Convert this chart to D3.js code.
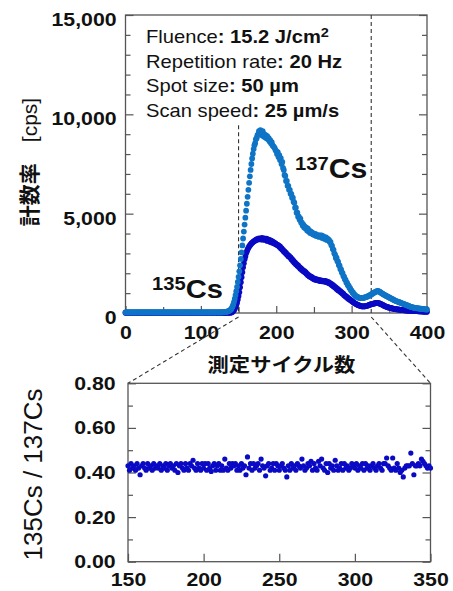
<!DOCTYPE html>
<html>
<head>
<meta charset="utf-8">
<script src="https://cdn.jsdelivr.net/npm/d3@7"></script>
<style>
  body { margin: 0; background: #fff; }
  svg { display: block; }
</style>
</head>
<body>
<div id="chart"></div>
<script>
// ---- data ----
// measurement cycle index (one point per cycle)
const cycles = d3.range(0, 401)

// 137Cs count rate [cps], cycles 0..400
const cs137 = [
  32,28,35,30,27,33,31,29,36,30,28,34,31,27,33,30,35,29,32,28,
  31,34,27,30,36,29,32,28,33,31,30,35,28,32,29,34,30,27,33,31,
  29,33,30,36,28,31,34,27,32,30,35,29,31,28,33,30,36,29,32,30,
  34,28,31,33,27,30,35,29,32,31,28,34,30,33,29,31,36,28,30,32,
  29,35,31,28,33,30,34,27,32,31,30,36,29,33,28,31,34,30,27,32,
  31,29,35,30,33,28,32,36,30,29,34,31,28,33,30,35,32,29,31,34,
  33,30,36,32,35,31,34,37,33,36,40,44,48,55,62,72,85,100,120,150,
  180,250,330,430,560,720,900,1100,1320,1560,
  1820,2100,2400,2720,3050,3400,3750,4100,4450,4800,
  5150,5500,5850,6200,6550,6880,7200,7500,7780,8020,
  8250,8450,8550,8750,8800,8950,8980,9150,9050,9200,
  9050,8950,9150,8900,9000,8850,8950,8800,8900,8750,
  8800,8650,8700,8550,8600,8450,8400,8350,8300,8200,
  8150,8000,8100,7850,7950,7700,7800,7500,7600,7300,
  7200,6950,6900,6650,6650,6400,6400,6200,6200,6000,
  6000,5800,5800,5600,5550,5300,5300,5050,5050,4850,
  4850,4700,4750,4550,4550,4400,4450,4300,4350,4250,
  4300,4150,4250,4100,4150,4030,4100,4000,4050,3950,
  3980,3920,3980,3880,3930,3860,3900,3830,3900,3850,
  3900,3780,3870,3750,3820,3730,3800,3680,3740,3660,
  3680,3570,3580,3420,3380,3220,3180,3000,2940,2770,
  2780,2620,2580,2420,2380,2220,2190,2040,2010,1860,
  1830,1700,1670,1540,1510,1400,1380,1270,1250,1140,
  1120,1030,1020,940,920,860,850,810,810,775,
  770,760,750,750,755,760,765,780,790,800,
  815,830,850,870,890,910,930,960,990,1010,
  1030,1050,1070,1090,1100,1110,1090,1070,1050,1020,
  990,970,950,920,900,880,860,840,820,800,
  780,760,740,720,700,680,660,640,620,600,
  590,575,560,545,530,515,500,485,470,455,
  440,425,410,395,380,365,350,335,320,305,
  295,285,275,265,255,250,245,240,235,230,
  225,220,215,210,205,200,195,190,185,180,
  175
]

// 135Cs count rate [cps], cycles 0..400
const cs135 = [
  12,15,13,17,14,12,16,13,15,14,13,16,12,15,17,13,14,12,16,15,
  14,12,15,13,17,14,16,12,13,15,16,13,14,12,15,17,13,14,16,12,
  15,14,13,16,12,15,17,14,13,15,12,16,14,13,15,12,17,14,16,13,
  14,15,12,16,13,14,17,12,15,13,16,14,13,15,12,16,14,17,13,15,
  12,14,16,13,15,12,14,17,13,16,15,13,12,14,16,15,13,17,12,14,
  13,16,15,12,14,13,17,15,12,16,14,13,16,12,15,14,13,17,15,12,
  16,14,13,15,17,14,16,15,18,17,14,15,16,15,17,16,18,17,19,18,
  22,35,60,100,150,220,300,400,520,680,
  850,1050,1300,1550,1800,2050,2300,2500,2700,2850,
  3000,3100,3200,3280,3350,3400,3450,3500,3530,3570,
  3600,3620,3650,3680,3700,3720,3700,3750,3720,3740,
  3700,3780,3700,3710,3760,3680,3700,3740,3630,3700,
  3620,3680,3580,3640,3550,3610,3520,3550,3480,3500,
  3450,3440,3410,3400,3330,3350,3260,3270,3180,3180,
  3100,3100,3020,3020,2940,2940,2860,2870,2800,2800,
  2710,2710,2620,2620,2530,2540,2460,2460,2380,2390,
  2310,2310,2230,2240,2160,2170,2100,2120,2050,2060,
  1980,1970,1900,1910,1840,1850,1800,1820,1750,1760,
  1700,1730,1670,1700,1650,1680,1630,1660,1610,1640,
  1600,1630,1590,1620,1580,1610,1560,1590,1540,1560,
  1500,1520,1460,1470,1400,1410,1340,1350,1280,1290,
  1210,1220,1150,1160,1090,1100,1030,1040,970,980,
  890,890,830,830,770,770,710,710,655,650,
  610,580,550,520,500,475,450,430,410,395,
  380,365,350,340,335,330,330,335,340,350,
  360,370,385,400,415,430,440,450,460,470,
  480,490,500,505,510,500,490,480,465,450,
  430,410,390,370,350,335,320,305,290,280,
  270,260,250,240,230,220,210,200,195,190,
  185,180,175,170,165,160,155,150,145,140,
  135,130,128,125,122,120,118,115,112,110,
  108,105,102,100,98,95,92,90,88,86,
  84,82,80,78,76,74,72,70,68,66,
  64
]

// isotope ratio 135Cs/137Cs, cycles 150..350
const ratioCycles = d3.range(150, 351)
const ratio = [
  0.43,0.41,0.44,0.42,0.43,0.41,0.44,0.42,0.39,0.43,
  0.44,0.42,0.41,0.44,0.42,0.43,0.41,0.44,0.42,0.43,
  0.42,0.44,0.41,0.43,0.42,0.44,0.41,0.43,0.44,0.42,
  0.43,0.41,0.44,0.40,0.43,0.44,0.42,0.41,0.44,0.42,
  0.41,0.44,0.43,0.455,0.42,0.41,0.44,0.42,0.41,0.44,
  0.42,0.44,0.41,0.44,0.42,0.405,0.43,0.44,0.41,0.43,
  0.44,0.41,0.43,0.41,0.46,0.42,0.41,0.44,0.42,0.44,
  0.43,0.44,0.41,0.43,0.41,0.44,0.42,0.43,0.39,0.47,
  0.42,0.44,0.41,0.44,0.42,0.43,0.44,0.41,0.46,0.43,
  0.42,0.385,0.43,0.44,0.41,0.42,0.44,0.41,0.44,0.43,
  0.41,0.43,0.44,0.42,0.41,0.38,0.43,0.41,0.44,0.42,
  0.43,0.41,0.44,0.43,0.42,0.46,0.43,0.41,0.42,0.44,
  0.43,0.45,0.41,0.44,0.42,0.41,0.45,0.43,0.46,0.42,
  0.41,0.44,0.40,0.44,0.42,0.43,0.41,0.455,0.43,0.41,
  0.42,0.44,0.41,0.44,0.42,0.43,0.41,0.42,0.44,0.43,
  0.42,0.44,0.41,0.43,0.42,0.44,0.41,0.44,0.42,0.43,
  0.41,0.43,0.44,0.42,0.41,0.43,0.44,0.42,0.41,0.44,
  0.44,0.465,0.43,0.42,0.41,0.465,0.42,0.41,0.44,0.42,
  0.40,0.41,0.38,0.42,0.43,0.43,0.43,0.487,0.44,0.39,
  0.43,0.43,0.44,0.43,0.46,0.45,0.44,0.43,0.42,0.43,
  0.42
]

// ticks and labels
const countTicks = [0, 5000, 10000, 15000]
const countMinor = [1000, 2000, 3000, 4000, 6000, 7000, 8000, 9000, 11000, 12000, 13000, 14000]
const cycleTicks = [0, 100, 200, 300, 400]
const cycleMinor = [50, 150, 250, 350]
const ratioTicks = [0, 0.2, 0.4, 0.6, 0.8]
const ratioMinor = [0.1, 0.3, 0.5, 0.7]
const zoomTicks = [150, 200, 250, 300, 350]
// cycles marked by the dashed lines (zoomed window)
const zoomWindow = [150, 326]

const conditions = [
  ['Fluence', ': 15.2 J/cm', '2'],
  ['Repetition rate', ': 20 Hz', ''],
  ['Spot size', ': 50 µm', ''],
  ['Scan speed', ': 25 µm/s', '']
]

// ---- drawing ----
const FONT = "'Liberation Sans', Arial, 'Noto Sans CJK JP', sans-serif"
const LIGHT = '#0f74c6'
const DARK = '#0a0ac4'
const LINE = '#555'
const SX = 1.12   // the original lettering is slightly wide

const svg = d3.select('#chart').append('svg')
    .attr('width', 453)
    .attr('height', 591)
    .style('font-family', FONT)

// tidy up an axis group: no domain, grey ticks, bold wide labels
let styleAxis = (g, size) => {
    g.select('.domain').remove()
    g.selectAll('.tick line').attr('stroke', LINE).attr('stroke-width', 1.2)
    g.attr('font-family', FONT).attr('font-size', size).attr('font-weight', 'bold')
    g.selectAll('.tick text').attr('fill', '#111').attr('transform', `scale(${SX},1)`)
}

// ===== top chart: count rate vs cycle =====
const x = d3.scaleLinear().domain([0, 400]).range([125.5, 427])
const y = d3.scaleLinear().domain([0, 15000]).range([313, 15])

svg.append('rect')
    .attr('x', x(0)).attr('y', y(15000))
    .attr('width', x(400) - x(0)).attr('height', y(0) - y(15000))
    .attr('fill', 'none').attr('stroke', LINE).attr('stroke-width', 1.3)

svg.append('g').attr('transform', `translate(${x(0)},0)`)
    .call(d3.axisLeft(y).tickValues(countMinor).tickSize(-5).tickFormat(''))
    .call(g => styleAxis(g, 19))
svg.append('g').attr('transform', `translate(${x(0)},0)`)
    .call(d3.axisLeft(y).tickValues(countTicks).tickSize(-8).tickPadding(8).tickFormat(d3.format(',')))
    .call(g => styleAxis(g, 19))
    .call(g => g.selectAll('.tick text').attr('dy', '0.55em'))
svg.append('g').attr('transform', `translate(${x(400)},0)`)
    .call(d3.axisRight(y).tickValues(countMinor).tickSize(-5).tickFormat(''))
    .call(g => styleAxis(g, 19))
svg.append('g').attr('transform', `translate(${x(400)},0)`)
    .call(d3.axisRight(y).tickValues(countTicks).tickSize(-8).tickFormat(''))
    .call(g => styleAxis(g, 19))
svg.append('g').attr('transform', `translate(0,${y(0)})`)
    .call(d3.axisBottom(x).tickValues(cycleMinor).tickSize(-6).tickFormat(''))
    .call(g => styleAxis(g, 19))
svg.append('g').attr('transform', `translate(0,${y(0)})`)
    .call(d3.axisBottom(x).tickValues(cycleTicks).tickSize(-7).tickPadding(13))
    .call(g => styleAxis(g, 19))

// dashed lines marking the zoomed window
let dashed = sel => sel.attr('stroke', '#333').attr('stroke-width', 1.1).attr('stroke-dasharray', '4,3')

svg.append('line').call(dashed)
    .attr('x1', x(zoomWindow[0])).attr('x2', x(zoomWindow[0]))
    .attr('y1', y(9450)).attr('y2', y(0))
svg.append('line').call(dashed)
    .attr('x1', x(zoomWindow[1])).attr('x2', x(zoomWindow[1]))
    .attr('y1', y(15000)).attr('y2', y(0))

// points: 135Cs under 137Cs
const rows = cycles.map((c, i) => ({c: c, a: cs137[i], b: cs135[i]}))

svg.append('g').selectAll('circle')
    .data(rows)
    .join('circle')
    .attr('cx', d => x(d.c))
    .attr('cy', d => y(d.b))
    .attr('r', 2.9)
    .attr('fill', DARK)

svg.append('g').selectAll('circle')
    .data(rows)
    .join('circle')
    .attr('cx', d => x(d.c))
    .attr('cy', d => y(d.a))
    .attr('r', 2.9)
    .attr('fill', LIGHT)

// measurement conditions
conditions.forEach((d, i) => {
    let t = svg.append('text')
        .attr('transform', `translate(146,${43 + i * 24.7}) scale(${SX},1)`)
        .attr('font-size', 18)
        .attr('fill', '#111')
    t.append('tspan').text(d[0])
    t.append('tspan').attr('font-weight', 'bold').text(d[1])
    if (d[2]) {
        t.append('tspan').attr('font-weight', 'bold').attr('font-size', 13).attr('dy', -6).text(d[2])
    }
})

// isotope labels
let isoLabel = (mass, px, py, csSize) => {
    let t = svg.append('text')
        .attr('transform', `translate(${px},${py}) scale(${SX},1)`)
        .attr('font-weight', 'bold')
        .attr('fill', '#111')
    t.append('tspan').attr('font-size', 18).attr('dy', -8).text(mass)
    t.append('tspan').attr('font-size', csSize).attr('dy', 8).text('Cs')
}
isoLabel('137', 295, 178, 27)
isoLabel('135', 152, 298, 26)

// axis titles
svg.append('text')
    .attr('transform', `translate(281.5,372) scale(${SX},1)`)
    .attr('text-anchor', 'middle')
    .attr('font-size', 19)
    .attr('font-weight', 'bold')
    .attr('fill', '#111')
    .text('測定サイクル数')

let yTitle = svg.append('text')
    .attr('transform', 'translate(37,162) rotate(-90)')
    .attr('text-anchor', 'middle')
    .attr('font-size', 21)
    .attr('fill', '#111')
yTitle.append('tspan').attr('font-weight', 'bold').text('計数率')
yTitle.append('tspan').text('\u3000[cps]')

// ===== bottom chart: isotope ratio =====
const x2 = d3.scaleLinear().domain([150, 350]).range([128, 430.5])
const y2 = d3.scaleLinear().domain([0, 0.8]).range([561.7, 383.3])

// connector lines from the window to the zoomed chart
svg.append('line').call(dashed)
    .attr('x1', x(zoomWindow[0])).attr('y1', y(0) + 4)
    .attr('x2', x2(150)).attr('y2', y2(0.8))
svg.append('line').call(dashed)
    .attr('x1', x(zoomWindow[1])).attr('y1', y(0) + 4)
    .attr('x2', x2(350)).attr('y2', y2(0.8))

svg.append('rect')
    .attr('x', x2(150)).attr('y', y2(0.8))
    .attr('width', x2(350) - x2(150)).attr('height', y2(0) - y2(0.8))
    .attr('fill', 'none').attr('stroke', LINE).attr('stroke-width', 1.3)

svg.append('g').attr('transform', `translate(${x2(150)},0)`)
    .call(d3.axisLeft(y2).tickValues(ratioMinor).tickSize(-5).tickFormat(''))
    .call(g => styleAxis(g, 19))
svg.append('g').attr('transform', `translate(${x2(150)},0)`)
    .call(d3.axisLeft(y2).tickValues(ratioTicks).tickSize(-8).tickPadding(11).tickFormat(d3.format('.2f')))
    .call(g => styleAxis(g, 19))
svg.append('g').attr('transform', `translate(${x2(350)},0)`)
    .call(d3.axisRight(y2).tickValues(ratioMinor).tickSize(-5).tickFormat(''))
    .call(g => styleAxis(g, 19))
svg.append('g').attr('transform', `translate(${x2(350)},0)`)
    .call(d3.axisRight(y2).tickValues(ratioTicks).tickSize(-8).tickFormat(''))
    .call(g => styleAxis(g, 19))
svg.append('g').attr('transform', `translate(0,${y2(0)})`)
    .call(d3.axisBottom(x2).tickValues(zoomTicks).tickSize(-8).tickPadding(11))
    .call(g => styleAxis(g, 19))

svg.append('g').selectAll('circle')
    .data(ratioCycles.map((c, i) => ({c: c, r: ratio[i]})))
    .join('circle')
    .attr('cx', d => x2(d.c))
    .attr('cy', d => y2(d.r))
    .attr('r', 2.6)
    .attr('fill', DARK)

svg.append('text')
    .attr('transform', 'translate(42,474.5) rotate(-90)')
    .attr('text-anchor', 'middle')
    .attr('font-size', 26)
    .attr('fill', '#111')
    .text('135Cs / 137Cs')
</script>
</body>
</html>
